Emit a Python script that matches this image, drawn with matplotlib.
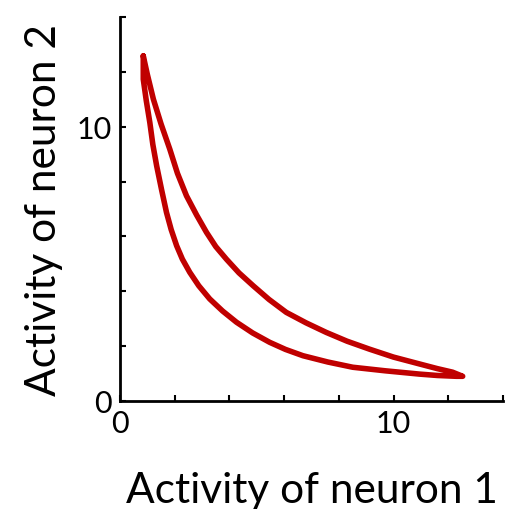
import numpy as np
import matplotlib.pyplot as plt

# trajectory of the two-neuron oscillator (limit cycle), going round once
neuron1 = [0.85, 1.0, 1.22, 1.5, 1.82, 2.1, 2.43, 2.8, 3.16, 3.5, 3.89, 4.35, 4.87,
           5.45, 6.08, 6.8, 7.54, 8.3, 9.12, 10.0, 10.95, 11.6, 12.16, 12.53,
           12.3, 11.6, 10.95, 9.7, 8.51, 7.6, 6.69, 6.05, 5.47, 4.85, 4.26, 3.75,
           3.28, 2.88, 2.55, 2.28, 2.07, 1.87, 1.70, 1.52, 1.34, 1.2, 1.09, 0.96,
           0.85, 0.85]
neuron2 = [12.58, 11.9, 11.0, 10.1, 9.18, 8.3, 7.48, 6.78, 6.15, 5.63, 5.17, 4.67,
           4.2, 3.7, 3.23, 2.85, 2.5, 2.18, 1.89, 1.6, 1.35, 1.18, 1.05, 0.9,
           0.9, 0.93, 0.98, 1.1, 1.23, 1.42, 1.65, 1.88, 2.14, 2.48, 2.87, 3.28,
           3.72, 4.2, 4.69, 5.17, 5.66, 6.25, 6.87, 7.7, 8.57, 9.35, 10.15, 10.95,
           11.73, 12.58]

xticks = [0, 2, 4, 6, 8, 10, 12, 14]
yticks = [0, 2, 4, 6, 8, 10, 12, 14]
ticklabels = ["0", "", "", "", "", "10", "", ""]

plt.rcParams["font.family"] = ["Lato", "DejaVu Sans"]

fig = plt.figure(figsize=(5.16, 5.10), dpi=100)
ax = fig.add_axes([0.2326, 0.2118, 0.742, 0.753])

ax.plot(neuron1, neuron2, color="#c00000", lw=4,
        solid_joinstyle="round", solid_capstyle="round")

ax.set_xlim(0, 14)
ax.set_ylim(0, 14)
ax.set_xticks(xticks)
ax.set_yticks(yticks)
ax.set_xticklabels(ticklabels)
ax.set_yticklabels(ticklabels)
ax.tick_params(direction="in", length=4, width=1.5, labelsize=22, pad=6)

for side in ["top", "right"]:
    ax.spines[side].set_visible(False)
for side in ["left", "bottom"]:
    ax.spines[side].set_linewidth(2)

ax.set_xlabel("Activity of neuron 1", fontsize=30.5, labelpad=24)
ax.set_ylabel("Activity of neuron 2", fontsize=30.5, labelpad=10)

fig.savefig("out.png", dpi=100)
